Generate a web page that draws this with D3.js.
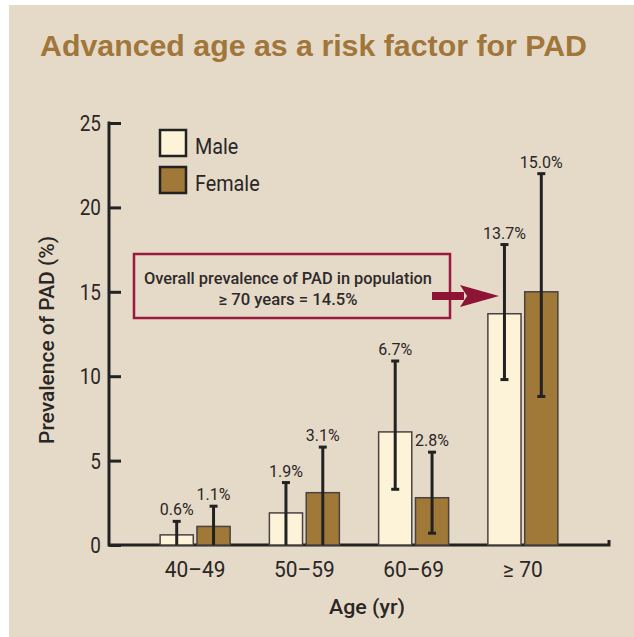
<!DOCTYPE html>
<html>
<head>
<meta charset="utf-8">
<script src="https://cdn.jsdelivr.net/npm/d3@7"></script>
<style>
  body { margin: 0; background: #fff; }
  svg text { font-family: Roboto, "Liberation Sans", sans-serif; }
</style>
</head>
<body>
<div id="chart"></div>
<script>
// valeurs
const groups = ["40–49", "50–59", "60–69", "≥ 70"]
const series = ["Male", "Female"]
const male = [0.6, 1.9, 6.7, 13.7]
const female = [1.1, 3.1, 2.8, 15.0]
const maleHi = [1.4, 3.7, 10.9, 17.8]
const maleLo = [0, 0, 3.3, 9.8]
const femaleHi = [2.3, 5.8, 5.5, 22.0]
const femaleLo = [0, 0, 0.7, 8.8]
const yTicks = [0, 5, 10, 15, 20, 25]

const W = 634, H = 637
const fills = { Male: "#fdf3d8", Female: "#a07838" }
const ink = "#2a2626"
const narrow = 0.86   // texte condense

const svg = d3.select("#chart").append("svg")
    .attr("width", W)
    .attr("height", H)

// fond beige
svg.append("rect")
    .attr("x", 9).attr("y", 5)
    .attr("width", W - 9).attr("height", H - 5)
    .attr("fill", "#e5dac8")

svg.append("text")
    .attr("x", 40).attr("y", 56)
    .attr("textLength", 547)
    .attr("lengthAdjust", "spacingAndGlyphs")
    .style("font-family", "'Liberation Sans', Arial, sans-serif")
    .style("font-size", "29px")
    .style("font-weight", "bold")
    .attr("fill", "#a0763a")
    .text("Advanced age as a risk factor for PAD")

const y = d3.scaleLinear().domain([0, 25]).range([545, 123])
const x = d3.scaleBand().domain(groups).range([140.5, 577.5])
const xs = d3.scaleBand().domain(series).range([-35, 35]).paddingInner(0.1)
const axisX = 109

// axe Y
const yAxis = svg.append("g").attr("transform", `translate(${axisX},0)`)
    .call(d3.axisRight(y).tickValues(yTicks).tickSize(12).tickFormat(""))
yAxis.select(".domain").remove()
yAxis.selectAll(".tick line").attr("stroke", "#222").attr("stroke-width", 3)

svg.append("line")
    .attr("x1", axisX).attr("x2", axisX)
    .attr("y1", y(25) - 1.5).attr("y2", y(0) + 1.5)
    .attr("stroke", "#222").attr("stroke-width", 3)

svg.selectAll(".ylab")
    .data(yTicks)
    .enter()
    .append("text")
    .attr("transform", d => `translate(101,${y(d) + 8}) scale(${narrow},1)`)
    .attr("text-anchor", "end")
    .style("font-size", "22px")
    .attr("fill", ink)
    .text(d => d)

// axe X
svg.append("path")
    .attr("d", `M${axisX},${y(0)}H609V${y(0) - 5}`)
    .attr("fill", "none")
    .attr("stroke", "#222")
    .attr("stroke-width", 3)

svg.selectAll(".xlab")
    .data(groups)
    .enter()
    .append("text")
    .attr("transform", d => `translate(${x(d) + x.bandwidth() / 2},577) scale(0.95,1)`)
    .attr("text-anchor", "middle")
    .style("font-size", "22px")
    .attr("fill", ink)
    .text(d => d)

svg.append("text")
    .attr("x", 367).attr("y", 614)
    .attr("text-anchor", "middle")
    .attr("textLength", 76)
    .attr("lengthAdjust", "spacingAndGlyphs")
    .style("font-size", "21px")
    .style("font-weight", 500)
    .attr("fill", ink)
    .text("Age (yr)")

svg.append("text")
    .attr("transform", "translate(54,340) rotate(-90)")
    .attr("text-anchor", "middle")
    .attr("textLength", 208)
    .attr("lengthAdjust", "spacingAndGlyphs")
    .style("font-size", "21px")
    .style("font-weight", 500)
    .attr("fill", ink)
    .text("Prevalence of PAD (%)")

// barres
const rows = []
groups.forEach((g, i) => {
    rows.push({ g: g, s: "Male", v: male[i], lo: maleLo[i], hi: maleHi[i] })
    rows.push({ g: g, s: "Female", v: female[i], lo: femaleLo[i], hi: femaleHi[i] })
})
const cx = d => x(d.g) + x.bandwidth() / 2 + xs(d.s) + xs.bandwidth() / 2

svg.selectAll(".bar")
    .data(rows)
    .enter()
    .append("rect")
    .attr("x", d => x(d.g) + x.bandwidth() / 2 + xs(d.s))
    .attr("y", d => y(d.v))
    .attr("width", xs.bandwidth())
    .attr("height", d => y(0) - y(d.v))
    .attr("fill", d => fills[d.s])
    .attr("stroke", "#4a4242")
    .attr("stroke-width", 1.5)

// barres d'erreur
const err = svg.selectAll(".err").data(rows).enter().append("g")
err.append("line")
    .attr("x1", cx).attr("x2", cx)
    .attr("y1", d => y(d.hi)).attr("y2", d => y(d.lo))
    .attr("stroke", "#222").attr("stroke-width", 3)
err.append("line")
    .attr("x1", d => cx(d) - 4).attr("x2", d => cx(d) + 4)
    .attr("y1", d => y(d.hi)).attr("y2", d => y(d.hi))
    .attr("stroke", "#222").attr("stroke-width", 3)
err.filter(d => d.lo > 0).append("line")
    .attr("x1", d => cx(d) - 4).attr("x2", d => cx(d) + 4)
    .attr("y1", d => y(d.lo)).attr("y2", d => y(d.lo))
    .attr("stroke", "#222").attr("stroke-width", 3)

svg.selectAll(".val")
    .data(rows)
    .enter()
    .append("text")
    .attr("transform", d => `translate(${cx(d)},${y(d.hi) - 6}) scale(0.97,1)`)
    .attr("text-anchor", "middle")
    .style("font-size", "16.5px")
    .attr("fill", ink)
    .text(d => d.v.toFixed(1) + "%")

// legende
series.forEach((s, i) => {
    svg.append("rect")
        .attr("x", 160).attr("y", 130 + i * 37)
        .attr("width", 26).attr("height", 26)
        .attr("fill", fills[s])
        .attr("stroke", "#222")
        .attr("stroke-width", 2.5)
    svg.append("text")
        .attr("transform", `translate(195,${154 + i * 37}) scale(0.9,1)`)
        .style("font-size", "22px")
        .attr("fill", ink)
        .text(s)
})

// encadre + fleche
svg.append("rect")
    .attr("x", 134).attr("y", 254)
    .attr("width", 316).attr("height", 64)
    .attr("fill", "none")
    .attr("stroke", "#9b1b3e")
    .attr("stroke-width", 2.5)

svg.append("text")
    .attr("x", 288).attr("y", 284)
    .attr("text-anchor", "middle")
    .attr("textLength", 288)
    .attr("lengthAdjust", "spacingAndGlyphs")
    .style("font-size", "16px")
    .style("font-weight", 500)
    .attr("fill", "#2f2a2a")
    .text("Overall prevalence of PAD in population")
svg.append("text")
    .attr("x", 288).attr("y", 305)
    .attr("text-anchor", "middle")
    .attr("textLength", 139)
    .attr("lengthAdjust", "spacingAndGlyphs")
    .style("font-size", "16px")
    .style("font-weight", 500)
    .attr("fill", "#2f2a2a")
    .text("≥ 70 years = 14.5%")

svg.append("path")
    .attr("d", "M432,292H464V300H432Z M460,285L499,296L460,307L467,296Z")
    .attr("fill", "#8e1436")
</script>
</body>
</html>
